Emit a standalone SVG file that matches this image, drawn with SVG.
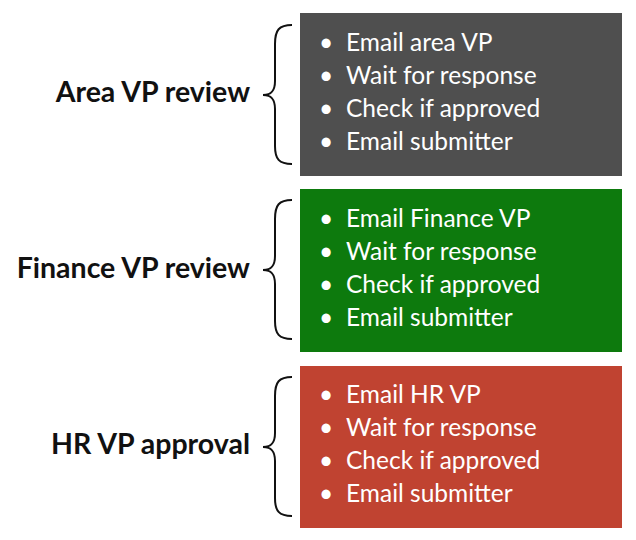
<svg xmlns="http://www.w3.org/2000/svg" width="636" height="540" viewBox="0 0 636 540">
<style>
.box text{font-family:Lato,"Open Sans",sans-serif;font-size:24.5px;fill:#ffffff}
.lbl{font-family:Lato,"Open Sans",sans-serif;font-size:28.5px;font-weight:bold;fill:#111;text-anchor:end}
.brace{fill:none;stroke:#111;stroke-width:2}
</style>
<defs>
<path id="br" class="brace" d="M29,0 C16,0 12,5 12,19 L12,56 C12,65 9,70 0,70 C9,70 12,75 12,84 L12,121 C12,134 16,139 29,139"/>
</defs>
<rect width="636" height="540" fill="#fff"/>
<g id="area">
<text class="lbl" x="250" y="102">Area VP review</text>
<use href="#br" x="263" y="25"/>
<g class="box">
<rect x="300" y="13" width="322" height="163" fill="#4f4f4f"/>
<text x="319" y="51">•</text><text x="346" y="51">Email area VP</text>
<text x="319" y="84">•</text><text x="346" y="84">Wait for response</text>
<text x="319" y="117">•</text><text x="346" y="117">Check if approved</text>
<text x="319" y="150">•</text><text x="346" y="150">Email submitter</text>
</g>
</g>
<g id="finance">
<text class="lbl" x="250" y="278">Finance VP review</text>
<use href="#br" x="263" y="200"/>
<g class="box">
<rect x="300" y="189" width="322" height="163" fill="#0d7a0d"/>
<text x="319" y="227">•</text><text x="346" y="227">Email Finance VP</text>
<text x="319" y="260">•</text><text x="346" y="260">Wait for response</text>
<text x="319" y="293">•</text><text x="346" y="293">Check if approved</text>
<text x="319" y="326">•</text><text x="346" y="326">Email submitter</text>
</g>
</g>
<g id="hr">
<text class="lbl" x="250" y="454">HR VP approval</text>
<use href="#br" x="263" y="377"/>
<g class="box">
<rect x="300" y="366" width="322" height="162" fill="#c04331"/>
<text x="319" y="403">•</text><text x="346" y="403">Email HR VP</text>
<text x="319" y="436">•</text><text x="346" y="436">Wait for response</text>
<text x="319" y="469">•</text><text x="346" y="469">Check if approved</text>
<text x="319" y="502">•</text><text x="346" y="502">Email submitter</text>
</g>
</g>
<g id="connectors"></g>
</svg>
